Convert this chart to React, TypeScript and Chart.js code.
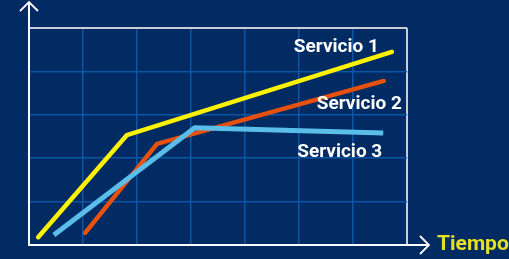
import React, { useEffect, useRef } from "react";
import { Chart, registerables } from "chart.js";

Chart.register(...registerables);

const seriesNames = ["Servicio 1", "Servicio 2", "Servicio 3"];
const servicio1X = [0.17, 1.81, 6.72];
const servicio1Y = [0.18, 2.53, 4.45];
const servicio2X = [1.04, 2.37, 6.57];
const servicio2Y = [0.28, 2.33, 3.78];
const servicio3X = [0.46, 3.07, 6.56];
const servicio3Y = [0.23, 2.7, 2.58];
const xMax = 7;
const yMax = 5;
const axisTitle = "Tiempo";

const BG = "#012b62";
const GRID = "#0c56a6";
const FONT = "Roboto, 'DejaVu Sans', sans-serif";

const toPts = (xs: number[], ys: number[]) => xs.map((x, i) => ({ x, y: ys[i] }));

const decorPlugin = {
  id: "decor",
  afterDatasetsDraw(chart: any) {
    const { ctx, chartArea } = chart;
    const { left, bottom } = chartArea;
    ctx.save();
    // axes with arrows
    ctx.strokeStyle = "#ffffff";
    ctx.lineWidth = 2;
    ctx.lineCap = "butt";
    ctx.beginPath();
    ctx.moveTo(left, bottom + 1);
    ctx.lineTo(left, 2);
    ctx.moveTo(left - 1, bottom);
    ctx.lineTo(429, bottom);
    ctx.stroke();
    ctx.lineWidth = 1.8;
    ctx.beginPath();
    ctx.moveTo(left - 9, 11);
    ctx.lineTo(left, 2);
    ctx.lineTo(left + 9, 11);
    ctx.moveTo(420, bottom - 9);
    ctx.lineTo(429, bottom);
    ctx.lineTo(420, bottom + 9);
    ctx.stroke();

    // axis title
    ctx.fillStyle = "#e4e024";
    ctx.font = `bold 21px ${FONT}`;
    ctx.textAlign = "left";
    ctx.textBaseline = "alphabetic";
    ctx.fillText(axisTitle, 437, 250);

    // series labels near last points
    const offsets = [
      [-13, 0],
      [18, 28],
      [-1, 24],
    ];
    ctx.fillStyle = "#ffffff";
    ctx.font = `bold 19px ${FONT}`;
    ctx.textAlign = "right";
    chart.data.datasets.forEach((ds: any, i: number) => {
      const meta = chart.getDatasetMeta(i);
      const last = meta.data[meta.data.length - 1];
      const idx = seriesNames.indexOf(ds.label);
      const off = offsets[idx];
      ctx.fillText(ds.label, last.x + off[0], last.y + off[1]);
    });
    ctx.restore();
  },
};

export default function App() {
  const ref = useRef<HTMLCanvasElement>(null);
  useEffect(() => {
    if (!ref.current) return;
    const chart = new Chart(ref.current, {
      type: "line",
      data: {
        datasets: [
          {
            label: seriesNames[0],
            data: toPts(servicio1X, servicio1Y),
            borderColor: "#fff200",
            borderWidth: 4.5,
            borderCapStyle: "round",
            borderJoinStyle: "miter",
            pointRadius: 0,
            order: 1,
          },
          {
            label: seriesNames[1],
            data: toPts(servicio2X, servicio2Y),
            borderColor: "#e8500e",
            borderWidth: 4.5,
            borderCapStyle: "round",
            borderJoinStyle: "miter",
            pointRadius: 0,
            order: 3,
          },
          {
            label: seriesNames[2],
            data: toPts(servicio3X, servicio3Y),
            borderColor: "#5bbde9",
            borderWidth: 5,
            borderCapStyle: "butt",
            borderJoinStyle: "miter",
            pointRadius: 0,
            order: 2,
          },
        ],
      },
      options: {
        animation: false,
        responsive: false,
        devicePixelRatio: 1,
        layout: { padding: { left: 29, top: 28, right: 102, bottom: 14 } },
        plugins: { legend: { display: false }, tooltip: { enabled: false } },
        scales: {
          x: {
            type: "linear",
            min: 0,
            max: xMax,
            ticks: { display: false, stepSize: 1 },
            border: { display: false },
            grid: {
              drawTicks: false,
              lineWidth: (c: any) => (c.tick && c.tick.value === xMax ? 2 : 1.5),
              color: (c: any) => (c.tick && c.tick.value === xMax ? "#c9ccd6" : GRID),
            },
          },
          y: {
            type: "linear",
            min: 0,
            max: yMax,
            ticks: { display: false, stepSize: 1 },
            border: { display: false },
            grid: {
              drawTicks: false,
              lineWidth: (c: any) => (c.tick && c.tick.value === yMax ? 2 : 1.5),
              color: (c: any) => (c.tick && c.tick.value === yMax ? "#c9ccd6" : GRID),
            },
          },
        },
      },
      plugins: [decorPlugin],
    });
    return () => chart.destroy();
  }, []);
  return (
    <div style={{ position: "absolute", left: 0, top: 0, width: 509, height: 259, background: BG, overflow: "hidden" }}>
      <canvas ref={ref} width={509} height={259} style={{ width: 509, height: 259, display: "block" }} />
    </div>
  );
}
